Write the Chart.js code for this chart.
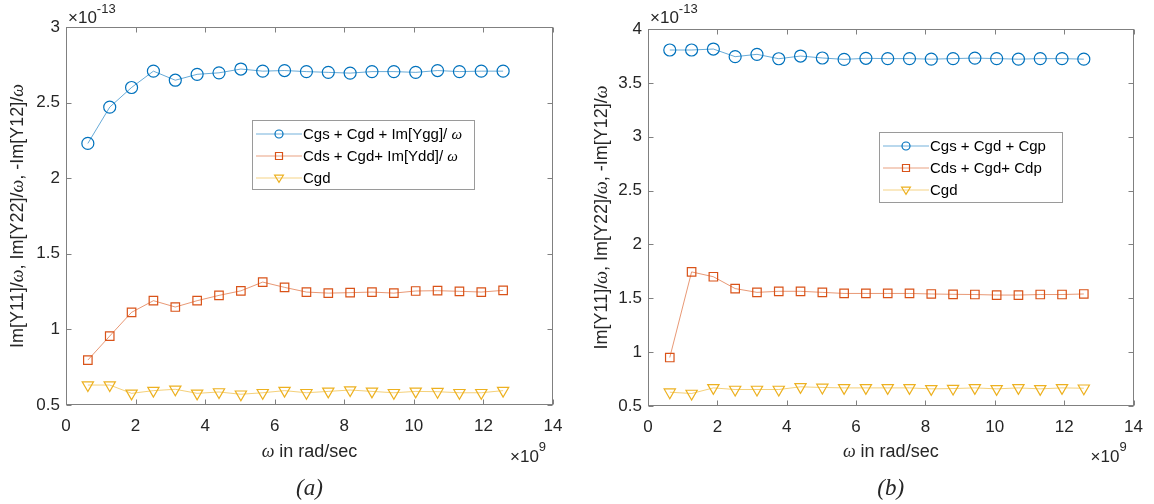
<!DOCTYPE html>
<html>
  <head>
    <title>Im[Y]/omega vs omega</title>
    <meta charset="utf-8" />
    <style>
      body { margin: 0; background: #fff; }
      .panel { position: absolute; top: 0; width: 577px; height: 504px; }
    </style>
  </head>

  <body>
    <div class="panel" style="left:0"><canvas id="chartA" width="577" height="504"></canvas></div>
    <div class="panel" style="left:577px"><canvas id="chartB" width="577" height="504"></canvas></div>
    <script src="https://cdn.jsdelivr.net/npm/chart.js@4.4.0/dist/chart.umd.min.js"></script>
    <script>
      // omega in units of 1e9 rad/sec
      const omega = [0.628, 1.257, 1.885, 2.513, 3.142, 3.770, 4.398, 5.027, 5.655, 6.283,
                     6.912, 7.540, 8.168, 8.796, 9.425, 10.053, 10.681, 11.310, 11.938, 12.566];

      // (a) values in units of 1e-13
      const aGate = [2.23, 2.47, 2.60, 2.708, 2.648, 2.687, 2.697, 2.722, 2.708, 2.712,
                     2.705, 2.70, 2.695, 2.705, 2.705, 2.70, 2.712, 2.705, 2.708, 2.708];
      const aDrain = [0.797, 0.956, 1.113, 1.19, 1.148, 1.19, 1.225, 1.255, 1.313, 1.278,
                      1.247, 1.24, 1.243, 1.247, 1.24, 1.254, 1.256, 1.252, 1.247, 1.258];
      const aCgd = [0.632, 0.632, 0.577, 0.595, 0.604, 0.577, 0.586, 0.571, 0.581, 0.595,
                    0.581, 0.59, 0.599, 0.59, 0.581, 0.59, 0.588, 0.581, 0.581, 0.595];

      // (b) values in units of 1e-13
      const bGate = [3.805, 3.805, 3.814, 3.743, 3.765, 3.724, 3.749, 3.731, 3.718, 3.728,
                     3.725, 3.725, 3.72, 3.725, 3.73, 3.725, 3.72, 3.725, 3.725, 3.72];
      const bDrain = [0.95, 1.745, 1.70, 1.59, 1.555, 1.565, 1.565, 1.555, 1.545, 1.545,
                      1.545, 1.545, 1.54, 1.537, 1.535, 1.53, 1.53, 1.535, 1.535, 1.54];
      const bCgd = [0.628, 0.616, 0.668, 0.653, 0.653, 0.653, 0.678, 0.672, 0.668, 0.668,
                    0.668, 0.668, 0.659, 0.662, 0.668, 0.659, 0.668, 0.659, 0.668, 0.665];

      const xTicks = [0, 2, 4, 6, 8, 10, 12, 14];

      const BLUE = "#0072BD", ORANGE = "#D95319", YELLOW = "#EDB120";
      const SANS = '"Liberation Sans", Arial, sans-serif';
      const F18 = "18px " + SANS;
      const OM = 'italic 18px "Liberation Serif", serif';
      const AXIS = "#808080", TEXT = "#262626";

      function richText(ctx, parts, x, y, align) {
        let w = 0;
        parts.forEach(p => { ctx.font = p[1]; w += ctx.measureText(p[0]).width; });
        let cx = align === "left" ? x : x - w / 2;
        ctx.textAlign = "left";
        parts.forEach(p => {
          ctx.font = p[1];
          ctx.fillText(p[0], cx, y);
          cx += ctx.measureText(p[0]).width;
        });
      }

      function marker(ctx, kind, x, y, r) {
        ctx.beginPath();
        if (kind === "circle") ctx.arc(x, y, r, 0, Math.PI * 2);
        else if (kind === "rect") ctx.rect(x - r, y - r, 2 * r, 2 * r);
        else {
          ctx.moveTo(x - r * 1.1, y - r * 0.7);
          ctx.lineTo(x + r * 1.1, y - r * 0.7);
          ctx.lineTo(x, y + r * 1.1);
          ctx.closePath();
        }
        ctx.stroke();
      }

      const frame = {
        id: "frame",
        afterDraw(chart) {
          const { ctx, chartArea: a, scales } = chart;
          const o = chart.options.plugins.frame;
          const L = Math.round(a.left) + 0.5, R = Math.round(a.right) - 0.5;
          const T = Math.round(a.top) + 0.5, B = Math.round(a.bottom) - 0.5;
          ctx.save();
          ctx.strokeStyle = AXIS;
          ctx.lineWidth = 1;
          ctx.strokeRect(L, T, R - L, B - T);
          ctx.beginPath();
          scales.x.ticks.forEach(t => {
            const px = Math.round(scales.x.getPixelForValue(t.value)) + 0.5;
            ctx.moveTo(px, B); ctx.lineTo(px, B - 5);
            ctx.moveTo(px, T); ctx.lineTo(px, T + 5);
          });
          scales.y.ticks.forEach(t => {
            const py = Math.round(scales.y.getPixelForValue(t.value)) + 0.5;
            ctx.moveTo(L, py); ctx.lineTo(L + 5, py);
            ctx.moveTo(R, py); ctx.lineTo(R - 5, py);
          });
          ctx.stroke();

          ctx.fillStyle = TEXT;
          ctx.textBaseline = "middle";
          // exponent labels
          const mid = (a.left + a.right) / 2;
          ctx.font = "17px " + SANS; ctx.textAlign = "left";
          ctx.fillText("\u00d710", a.left + 2, 18);
          const w1 = ctx.measureText("\u00d710").width;
          ctx.font = "13px " + SANS;
          ctx.fillText("-13", a.left + 2 + w1, 9);
          ctx.font = "17px " + SANS;
          const w2 = ctx.measureText("\u00d710").width;
          ctx.fillText("\u00d710", a.right - 43, 457);
          ctx.font = "13px " + SANS;
          ctx.fillText("9", a.right - 43 + w2, 447);

          // axis titles
          ctx.fillStyle = TEXT;
          richText(ctx, [["\u03c9", OM], [" in rad/sec", F18]], mid, 452);
          ctx.save();
          ctx.translate(o.yTitleX, (a.top + a.bottom) / 2);
          ctx.rotate(-Math.PI / 2);
          richText(ctx, [["Im[Y11]/", F18], ["\u03c9", OM], [", Im[Y22]/", F18], ["\u03c9", OM],
                         [", -Im[Y12]/", F18], ["\u03c9", OM]], 0, 0);
          ctx.restore();

          // caption
          ctx.font = 'italic 23px "Liberation Serif", serif';
          ctx.textAlign = "center";
          ctx.fillText(o.caption, mid, 489);

          // legend
          const lg = o.legend;
          ctx.fillStyle = "#fff";
          ctx.fillRect(lg.x, lg.y, lg.w, lg.h);
          ctx.strokeStyle = "#9a9a9a";
          ctx.strokeRect(lg.x + 0.5, lg.y + 0.5, lg.w, lg.h);
          const kinds = ["circle", "rect", "tri"];
          const cols = [BLUE, ORANGE, YELLOW];
          const rs = [4, 3.5, 4];
          lg.items.forEach((parts, i) => {
            const cy = lg.y + 14 + i * 22;
            ctx.strokeStyle = cols[i];
            ctx.globalAlpha = 0.55;
            ctx.lineWidth = 1.2;
            ctx.beginPath();
            ctx.moveTo(lg.x + 4, cy); ctx.lineTo(lg.x + 50, cy);
            ctx.stroke();
            ctx.globalAlpha = 1;
            ctx.fillStyle = "#fff";
            ctx.beginPath(); ctx.arc(lg.x + 27, cy, 3, 0, 6.3);
            marker(ctx, kinds[i], lg.x + 27, cy, rs[i]);
            ctx.fillStyle = "#000";
            ctx.textBaseline = "middle";
            richText(ctx, parts, lg.x + 51, cy + 1, "left");
          });
          ctx.restore();
        }
      };

      function series(label, ys, color, style, radius, rotation) {
        return {
          label: label,
          data: omega.map((x, i) => ({ x: x, y: ys[i] })),
          borderColor: color + "99",
          borderWidth: 1,
          pointStyle: style,
          pointRadius: radius,
          pointHoverRadius: radius,
          pointRotation: rotation || 0,
          pointBorderColor: color,
          pointBackgroundColor: "rgba(0,0,0,0)",
          pointBorderWidth: 1.2,
          tension: 0
        };
      }

      function makeChart(id, data, cfg) {
        const ctx = document.getElementById(id).getContext("2d");
        return new Chart(ctx, {
          type: "line",
          data: {
            datasets: [
              series(cfg.labels[0], data[0], BLUE, "circle", 6),
              series(cfg.labels[1], data[1], ORANGE, "rect", 6),
              series(cfg.labels[2], data[2], YELLOW, "triangle", 6.5, 180)
            ]
          },
          options: {
            responsive: false,
            animation: false,
            layout: { padding: cfg.padding },
            plugins: {
              legend: { display: false },
              tooltip: { enabled: false },
              frame: cfg.frame
            },
            scales: {
              x: {
                type: "linear",
                min: 0, max: 14,
                afterBuildTicks: s => { s.ticks = xTicks.map(v => ({ value: v })); },
                afterFit: s => { s.height = cfg.xHeight; },
                grid: { display: false, drawTicks: false },
                border: { display: false },
                ticks: { font: { family: SANS, size: 17 }, color: TEXT, padding: 11, maxRotation: 0,
                         callback: v => String(v) }
              },
              y: {
                min: 0.5, max: cfg.yMax,
                afterBuildTicks: s => {
                  const t = [];
                  for (let v = 0.5; v <= cfg.yMax + 1e-9; v += 0.5) t.push({ value: v });
                  s.ticks = t;
                },
                afterFit: s => { s.width = cfg.yWidth; },
                grid: { display: false, drawTicks: false },
                border: { display: false },
                ticks: { font: { family: SANS, size: 17 }, color: TEXT, padding: 6,
                         callback: v => String(Math.round(v * 10) / 10) }
              }
            }
          },
          plugins: [frame]
        });
      }

      makeChart("chartA", [aGate, aDrain, aCgd], {
        labels: ["Cgs + Cgd + Im[Ygg]/omega", "Cds + Cgd+ Im[Ydd]/omega", "Cgd"],
        padding: { left: 0, right: 24, top: 27, bottom: 0 },
        yWidth: 66, xHeight: 99, yMax: 3,
        frame: {
          caption: "(a)", yTitleX: 18,
          legend: {
            x: 252, y: 120, w: 222, h: 69,
            items: [
              [["Cgs + Cgd + Im[Ygg]/ ", "15px " + SANS], ["\u03c9", 'italic 15px "Liberation Serif", serif']],
              [["Cds + Cgd+ Im[Ydd]/ ", "15px " + SANS], ["\u03c9", 'italic 15px "Liberation Serif", serif']],
              [["Cgd", "15px " + SANS]]
            ]
          }
        }
      });

      makeChart("chartB", [bGate, bDrain, bCgd], {
        labels: ["Cgs + Cgd + Cgp", "Cds + Cgd+ Cdp", "Cgd"],
        padding: { left: 0, right: 18, top: 29, bottom: 0 },
        yWidth: 71, xHeight: 98, yMax: 4,
        frame: {
          caption: "(b)", yTitleX: 25,
          legend: {
            x: 302, y: 132, w: 183, h: 70,
            items: [
              [["Cgs + Cgd + Cgp", "15px " + SANS]],
              [["Cds + Cgd+ Cdp", "15px " + SANS]],
              [["Cgd", "15px " + SANS]]
            ]
          }
        }
      });
    </script>
  </body>
</html>
